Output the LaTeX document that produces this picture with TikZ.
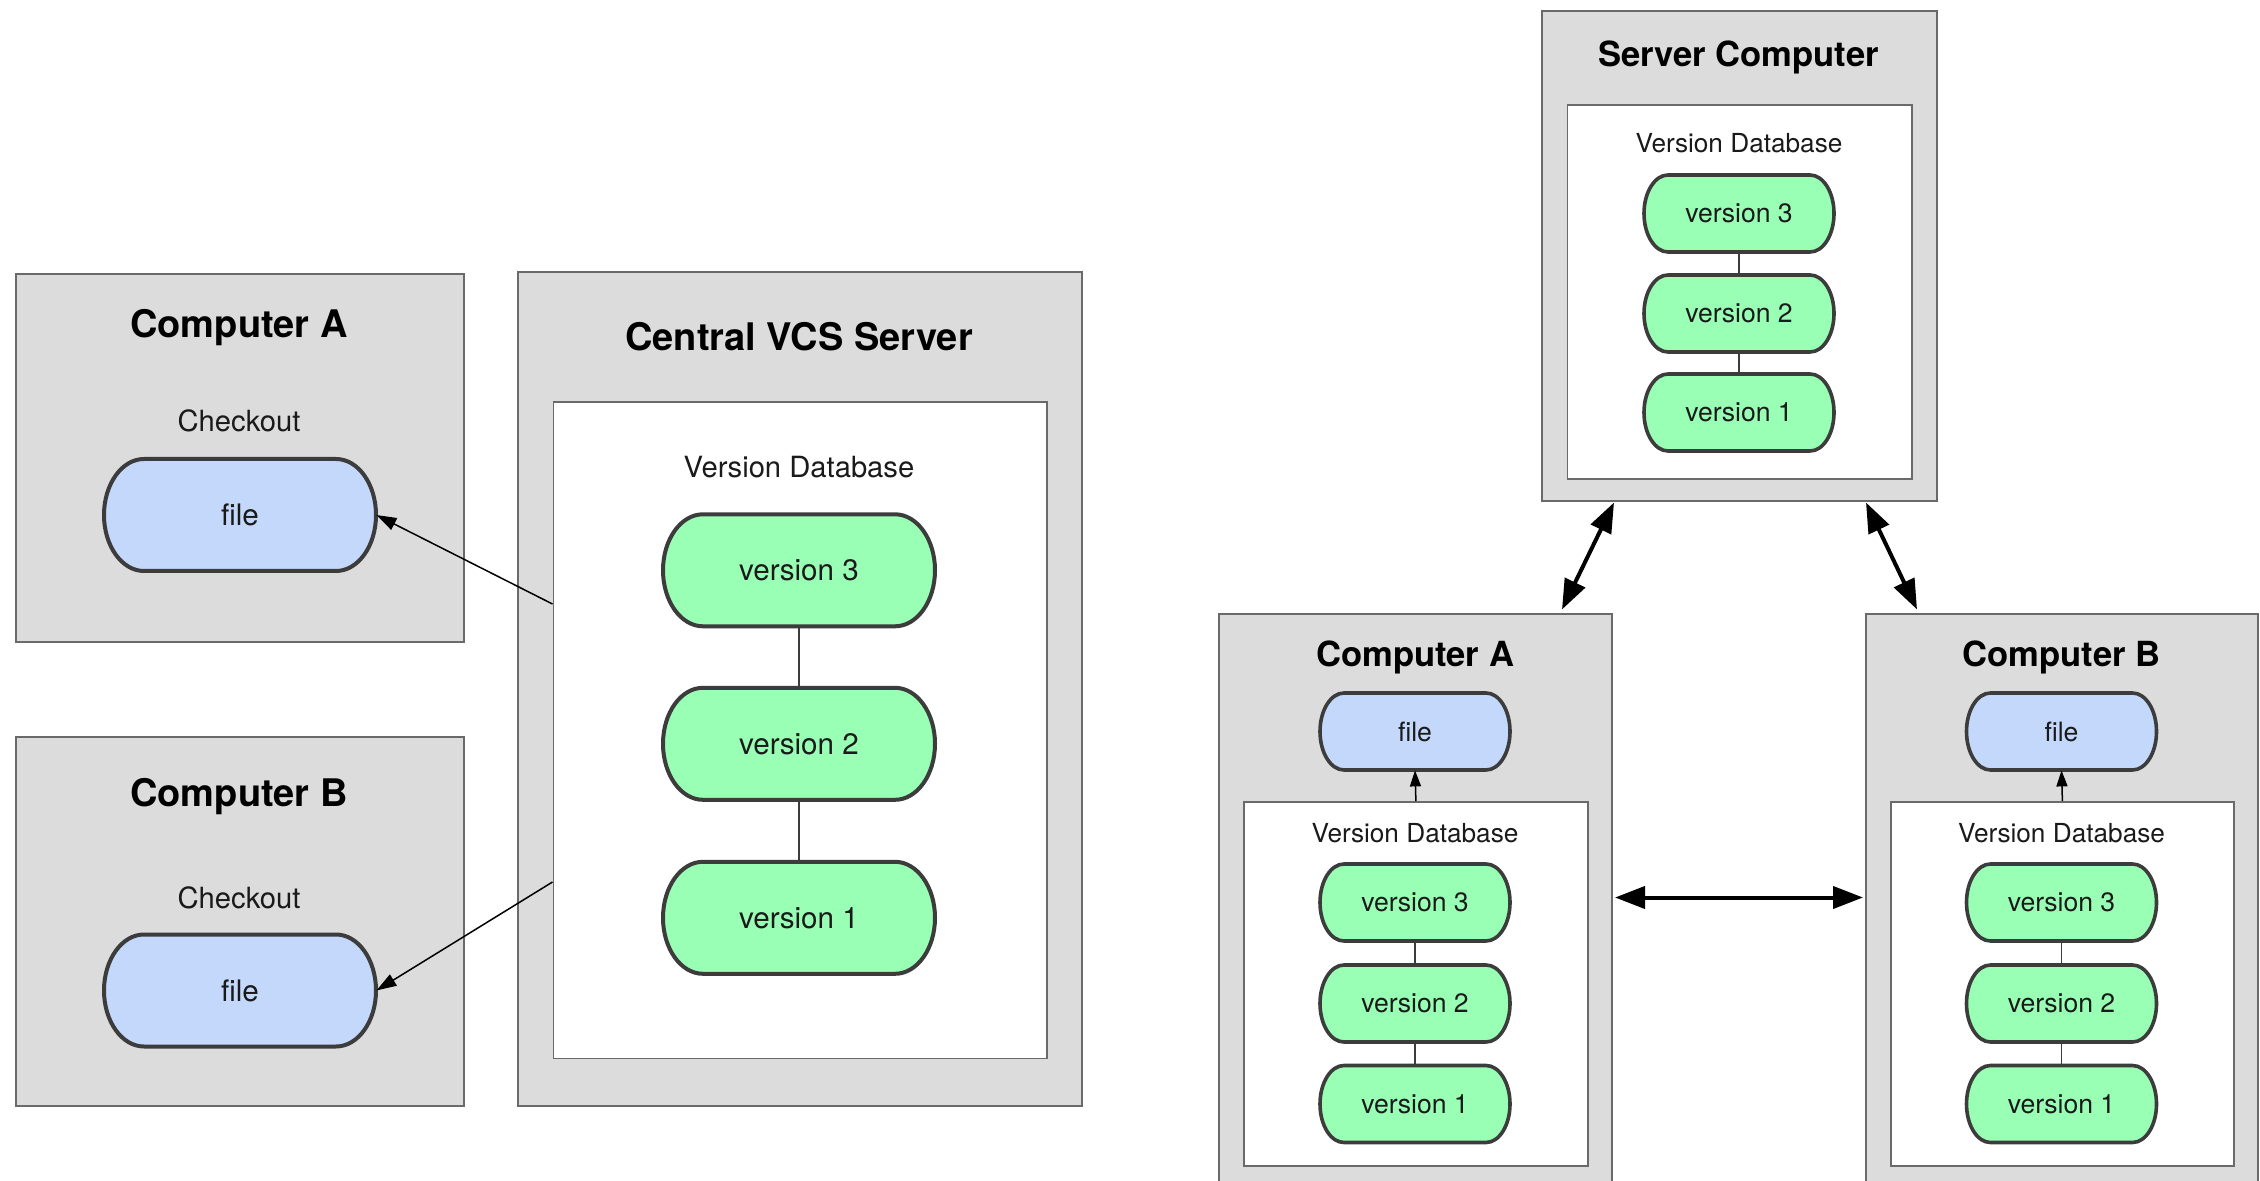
\documentclass[tikz,border=0pt]{standalone}
\usepackage{fontspec}
\setmainfont{TeX Gyre Heros}
\usetikzlibrary{arrows.meta}
\definecolor{boxgray}{HTML}{DCDCDC}
\definecolor{boxline}{HTML}{6A6A6A}
\definecolor{pillline}{HTML}{3C3C3C}
\definecolor{fileblue}{HTML}{C3D8FB}
\definecolor{vergreen}{HTML}{99FFB5}
\definecolor{txt}{HTML}{1A1A1A}
% big pill: #1 name, #2 x, #3 y, #4 fill colour, #5 text
\newcommand\bigpillat[5]{%
  \draw[draw=pillline,line width=2pt,fill=#4]
    ([shift={(-48pt,28pt)}]#2,#3) -- ++(96pt,0pt)
    arc[start angle=90,end angle=-90,x radius=20pt,y radius=28pt]
    -- ++(-96pt,0pt)
    arc[start angle=270,end angle=90,x radius=20pt,y radius=28pt] -- cycle;
  \node[bigpilltext] (#1) at (#2,#3) {#5};}
% small pill
\newcommand\smallpillat[5]{%
  \draw[draw=pillline,line width=1.8pt,fill=#4]
    ([shift={(-35.5pt,19.25pt)}]#2,#3) -- ++(71pt,0pt)
    arc[start angle=90,end angle=-90,x radius=12pt,y radius=19.25pt]
    -- ++(-71pt,0pt)
    arc[start angle=270,end angle=90,x radius=12pt,y radius=19.25pt] -- cycle;
  \node[smallpilltext] (#1) at (#2,#3) {#5};}
\begin{document}
\begin{tikzpicture}[x=0.5pt,y=-0.5pt,
  box/.style={rectangle,draw=boxline,line width=0.9pt,fill=boxgray,anchor=north west,inner sep=0pt},
  dbbox/.style={rectangle,draw=boxline,line width=0.9pt,fill=white,anchor=north west,inner sep=0pt},
  bigpilltext/.style={rectangle,inner sep=0pt,minimum width=136pt,minimum height=56pt,text=txt,font=\fontsize{14.8}{17}\selectfont},
  smallpilltext/.style={rectangle,inner sep=0pt,minimum width=95pt,minimum height=38.5pt,text=txt,font=\fontsize{13.3}{15}\selectfont},
  title/.style={anchor=base,font=\bfseries\fontsize{19}{22}\selectfont},
  rtitle/.style={anchor=base,font=\bfseries\fontsize{17.3}{20}\selectfont},
  lab/.style={anchor=base,text=txt,font=\fontsize{14.6}{17}\selectfont},
  rlab/.style={anchor=base,text=txt,font=\fontsize{13.1}{15}\selectfont},
  vline/.style={draw=pillline,line width=1pt},
  rvline/.style={draw=pillline,line width=0.8pt},
  thinarrow/.style={draw=black,line width=0.75pt,-{Triangle[length=10pt,width=6.5pt]}},
  smallarrow/.style={draw=black,line width=0.75pt,-{Triangle[length=8pt,width=5.5pt]}},
  bigarrow/.style={draw=black,line width=2pt,{Triangle[length=15pt,width=11pt]}-{Triangle[length=15pt,width=11pt]}}
]
\path[use as bounding box] (0,0) rectangle (2260,1181);
\clip (0,0) rectangle (2260,1181);
\fill[white] (0,0) rectangle (2260,1181);

% ---------- left: centralized ----------
\node[box,minimum width=224pt,minimum height=184pt] (compAL) at (15,273) {};
\node[title] (tAL) at (239,338) {Computer A};
\node[lab] (coAL) at (239,432) {Checkout};
\bigpillat{fileAL}{240}{515}{fileblue}{file}

\node[box,minimum width=224pt,minimum height=184.5pt] (compBL) at (15,736) {};
\node[title] (tBL) at (239,806) {Computer B};
\node[lab] (coBL) at (239,908) {Checkout};
\bigpillat{fileBL}{240}{990.5}{fileblue}{file}

\node[box,minimum width=282pt,minimum height=416.75pt] (central) at (517,271.5) {};
\node[title] (tC) at (799,350.7) {Central VCS Server};
\node[dbbox,minimum width=246.75pt,minimum height=328pt] (cdb) at (552.5,401.5) {};
\node[lab] (cdbl) at (799,477.3) {Version Database};
\bigpillat{cv3}{799}{570.3}{vergreen}{version 3}
\bigpillat{cv2}{799}{743.8}{vergreen}{version 2}
\bigpillat{cv1}{799}{917.8}{vergreen}{version 1}
\draw[vline] (cv3) -- (cv2);
\draw[vline] (cv2) -- (cv1);

\coordinate (srcA) at (552.5,604);
\coordinate (srcB) at (552.5,882);
\draw[thinarrow] (srcA) -- (fileAL.east);
\draw[thinarrow] (srcB) -- (fileBL.east);

% ---------- right: distributed ----------
\node[box,minimum width=197.5pt,minimum height=245pt] (server) at (1541,10) {};
\node[rtitle] (tS) at (1738.5,66.5) {Server Computer};
\node[dbbox,minimum width=172.25pt,minimum height=187pt] (sdb) at (1566.5,104) {};
\node[rlab] (sdbl) at (1739,153) {Version Database};
\smallpillat{sv3}{1739}{213.5}{vergreen}{version 3}
\smallpillat{sv2}{1739}{313.5}{vergreen}{version 2}
\smallpillat{sv1}{1739}{412.5}{vergreen}{version 1}
\draw[rvline] (sv3) -- (sv2);
\draw[rvline] (sv2) -- (sv1);

\node[box,minimum width=196.5pt,minimum height=300pt] (compAR) at (1218,613) {};
\node[rtitle] (tAR) at (1415,667) {Computer A};
\smallpillat{fileAR}{1415}{731.5}{fileblue}{file}
\node[dbbox,minimum width=172pt,minimum height=182pt] (adb) at (1243,801) {};
\node[rlab] (adbl) at (1415,842) {Version Database};
\smallpillat{av3}{1415}{902.5}{vergreen}{version 3}
\smallpillat{av2}{1415}{1003.5}{vergreen}{version 2}
\smallpillat{av1}{1415}{1104}{vergreen}{version 1}
\draw[rvline] (av3) -- (av2);
\draw[rvline] (av2) -- (av1);
\draw[smallarrow] (adb.north) -- (fileAR.south);

\node[box,minimum width=196pt,minimum height=300pt] (compBR) at (1865,613) {};
\node[rtitle] (tBR) at (2061.5,667) {Computer B};
\smallpillat{fileBR}{2061.5}{731.5}{fileblue}{file}
\node[dbbox,minimum width=171.5pt,minimum height=182pt] (bdb) at (1890,801) {};
\node[rlab] (bdbl) at (2061.5,842) {Version Database};
\smallpillat{bv3}{2061.5}{902.5}{vergreen}{version 3}
\smallpillat{bv2}{2061.5}{1003.5}{vergreen}{version 2}
\smallpillat{bv1}{2061.5}{1104}{vergreen}{version 1}
\draw[rvline] (bv3) -- (bv2);
\draw[rvline] (bv2) -- (bv1);
\draw[smallarrow] (bdb.north) -- (fileBR.south);

\coordinate (sa1) at (1614,502.5);
\coordinate (sa2) at (1562,609.5);
\coordinate (sb1) at (1866,502.5);
\coordinate (sb2) at (1917,609.5);
\coordinate (h1) at (1615,897.5);
\coordinate (h2) at (1863,897.5);
\draw[bigarrow] (sa1) -- (sa2);
\draw[bigarrow] (sb1) -- (sb2);
\draw[bigarrow] (h1) -- (h2);
\end{tikzpicture}
\end{document}
